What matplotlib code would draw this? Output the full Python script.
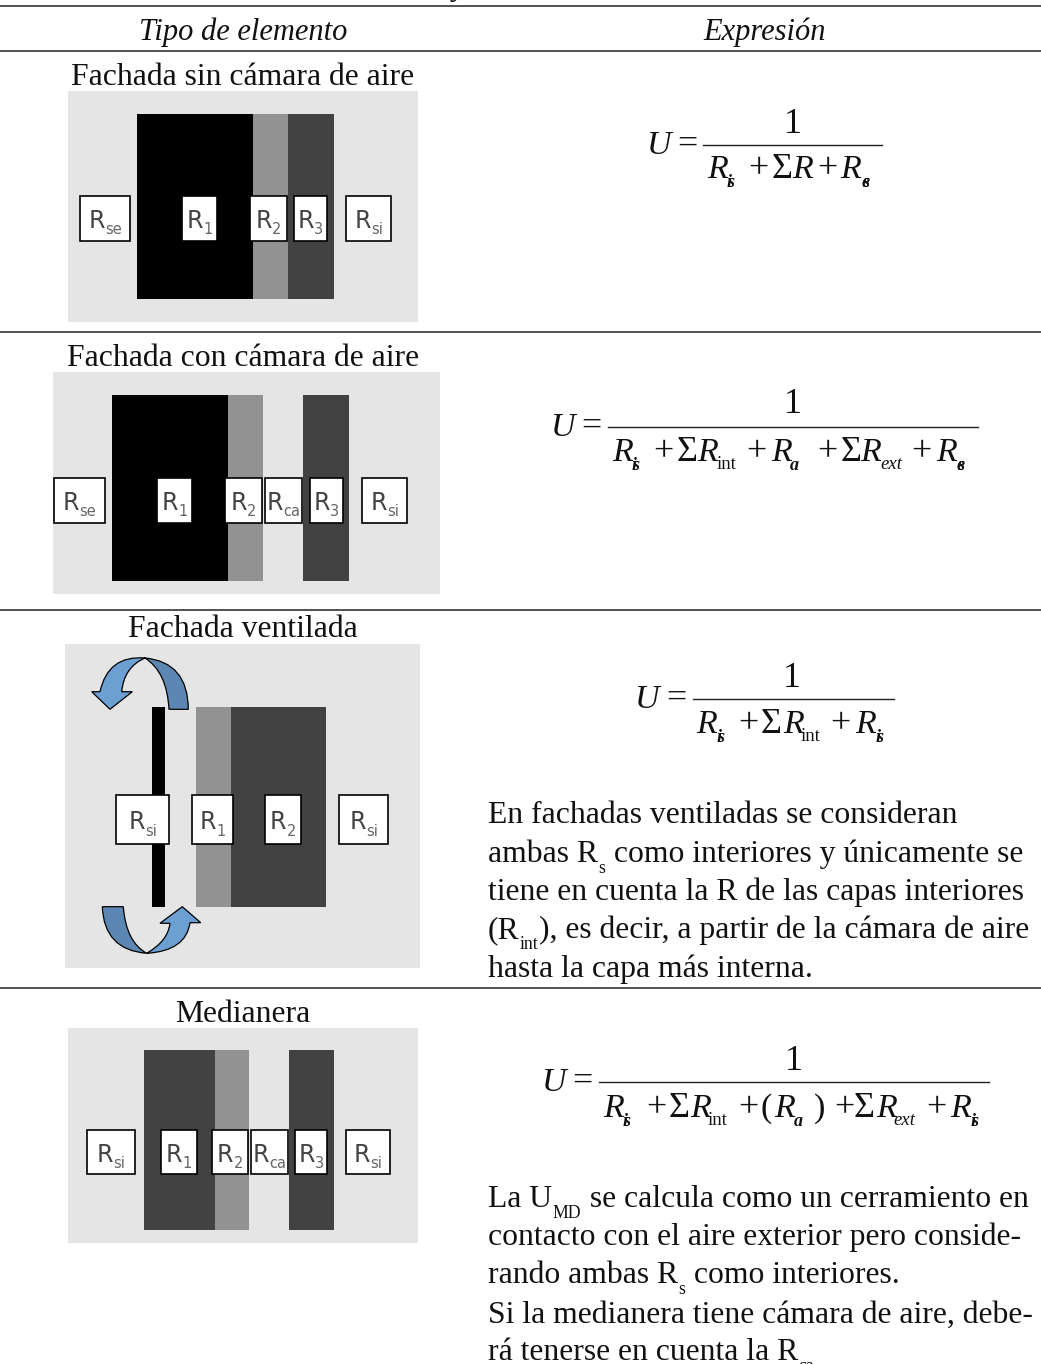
#!/usr/bin/env python3
"""Tabla de transmitancia U por tipo de elemento, dibujada en pixeles."""

import matplotlib

matplotlib.use("Agg")
import matplotlib.pyplot as plt
from matplotlib.patches import PathPatch, Rectangle
from matplotlib.path import Path

SERIF = "Liberation Serif"
BODY_PT = 22.8
HEADER_PT = 22.0
FORMULA_PT = 24.5
SIGN_PT = 26
SUB_PT = 12.8

WHITE_GREY = "#e5e5e5"
BLACK = "#000000"
MID = "#929292"
DARK = "#424242"
ARROW_BACK = "#5b87b2"
ARROW_FRONT = "#6c9fd2"

headers = ["Tipo de elemento", "Expresión"]
titles = [
    "Fachada sin cámara de aire",
    "Fachada con cámara de aire",
    "Fachada ventilada",
    "Medianera",
]
title_baselines = [85, 366, 637, 1022]
rule_rows = [5.5, 50.5, 332, 610, 988]

# paneles: fondo (x0, x1, y0, y1) y capas (x0, x1, color)
panel_frames = [
    (68, 418, 91, 322),
    (53, 440, 372, 594),
    (65, 420, 644, 968),
    (68, 418, 1028, 1243),
]
layer_rows = [(114, 299), (395, 581), (707, 907), (1050, 1230)]
layers = [
    [(137, 253, BLACK), (253, 288, MID), (288, 334, DARK)],
    [(112, 228, BLACK), (228, 263, MID), (303, 349, DARK)],
    [(152, 165, BLACK), (196, 231, MID), (231, 326, DARK)],
    [(144, 215, DARK), (215, 249, MID), (289, 334, DARK)],
]

# etiquetas de cada panel
label_rows = [(195, 242), (477, 524), (794, 845), (1129, 1175)]
box_names = [
    ["se", "1", "2", "3", "si"],
    ["se", "1", "2", "ca", "3", "si"],
    ["si", "1", "2", "si"],
    ["si", "1", "2", "ca", "3", "si"],
]
box_edges = [
    [(79, 131), (181, 218), (249, 288), (293, 328), (345, 392)],
    [(53, 106), (156, 193), (224, 263), (264, 303), (309, 344), (361, 408)],
    [(115, 170), (191, 234), (264, 302), (338, 389)],
    [(86, 136), (160, 198), (211, 249), (250, 289), (294, 328), (345, 391)],
]

# formulas: U, =, raya, 1 y trozos del denominador
formula_x = [
    (647, 677, 703, 882, 793),
    (551, 581, 608, 978, 793),
    (635, 666, 693, 894, 792),
    (542, 572, 599, 989, 793.5),
]
formula_y = [(133, 145, 178), (413, 427, 461), (687, 699, 733), (1070, 1082, 1117)]
denominators = [
    [(707, "R"), (727, "_si"), (748, "+"), (772, "Σ"), (792, "R"), (817, "+"), (840, "R"), (862, "_se")],
    [(612, "R"), (632, "_si"), (653, "+"), (677, "Σ"), (697, "R"), (717, "^int"), (746, "+"),
     (771, "R"), (790, "_a"), (817, "+"), (841, "Σ"), (860, "R"), (880, "_ext"), (911, "+"),
     (936, "R"), (957, "_se")],
    [(696, "R"), (717, "_si"), (738, "+"), (761, "Σ"), (783, "R"), (801, "^int"), (830, "+"),
     (855, "R"), (876, "_si")],
    [(603, "R"), (623, "_si"), (646, "+"), (669, "Σ"), (690, "R"), (707.5, "^int"), (738, "+"),
     (761, "^("), (774, "R"), (793.5, "_a"), (814, "^)"), (834, "+"), (854, "Σ"), (876, "R"),
     (893, "_ext"), (926, "+"), (950, "R"), (971, "_si")],
]

# parrafos: (texto, es_subindice)
ventilada_lines = [
    [("En fachadas ventiladas se consideran", False)],
    [("ambas R", False), ("s", True), (" como interiores y únicamente se", False)],
    [("tiene en cuenta la R de las capas interiores", False)],
    [("(R", False), ("int", True), ("), es decir, a partir de la cámara de aire", False)],
    [("hasta la capa más interna.", False)],
]
ventilada_baselines = [823, 862, 900, 938, 977]
medianera_lines = [
    [("La U", False), ("MD", True), (" se calcula como un cerramiento en", False)],
    [("contacto con el aire exterior pero conside-", False)],
    [("rando ambas R", False), ("s", True), (" como interiores.", False)],
    [("Si la medianera tiene cámara de aire, debe-", False)],
    [("rá tenerse en cuenta la R", False), ("ca", True)],
]
medianera_baselines = [1207, 1245, 1283, 1323, 1360]

# flechas de la fachada ventilada
top_back = [(145, 658), (188, 662), (188.3, 709.3), (169, 709.3), (167, 672), (145, 658)]
top_front = [(145, 658), (108, 655), (100, 691.7), (91.7, 691.7), (110, 709.3), (132.3, 691.7),
             (121.7, 691.7), (124, 667), (145, 658)]
bottom_back = [(102.3, 906.7), (104, 950), (146.7, 953.3), (126, 942), (123.3, 906.7), (102.3, 906.7)]
bottom_front = [(146.7, 953.3), (186, 951), (190, 922.7), (200.7, 922.7), (182.3, 906.7),
                (160, 923.3), (170, 923.3), (168, 941), (146.7, 953.3)]
back_codes = [Path.MOVETO, Path.CURVE3, Path.CURVE3, Path.LINETO, Path.CURVE3, Path.CURVE3]
top_front_codes = [Path.MOVETO, Path.CURVE3, Path.CURVE3, Path.LINETO, Path.LINETO, Path.LINETO,
                   Path.LINETO, Path.CURVE3, Path.CURVE3]
bottom_front_codes = [Path.MOVETO, Path.CURVE3, Path.CURVE3, Path.LINETO, Path.LINETO, Path.LINETO,
                      Path.LINETO, Path.CURVE3, Path.CURVE3]
bottom_back_codes = [Path.MOVETO, Path.CURVE3, Path.CURVE3, Path.CURVE3, Path.CURVE3, Path.LINETO]

fig = plt.figure(figsize=(10.41, 13.64), dpi=100)
ax = fig.add_axes([0, 0, 1, 1])
ax.set_xlim(0, 1041)
ax.set_ylim(1364, 0)
ax.axis("off")
renderer = fig.canvas.get_renderer()


def serif(x, y, text, size=BODY_PT, style="normal", weight="normal", ha="left"):
    return ax.text(x, y, text, family=SERIF, fontsize=size, style=style, weight=weight,
                   ha=ha, va="baseline", color="#111111")


def text_width(text, size):
    probe = ax.text(0, 0, text + "|", family=SERIF, fontsize=size)
    bar = ax.text(0, 0, "|", family=SERIF, fontsize=size)
    width = probe.get_window_extent(renderer).width - bar.get_window_extent(renderer).width
    probe.remove()
    bar.remove()
    return width


def rich_line(x, y, segments):
    for text, is_sub in segments:
        size = SUB_PT if is_sub else BODY_PT
        serif(x, y + (11 if is_sub else 0), text, size=size)
        x += text_width(text, size) + (1 if is_sub else 0)


def draw_box(x0, x1, y0, y1, sub):
    ax.add_patch(Rectangle((x0 + 1, y0 + 1), x1 - x0 - 2, y1 - y0 - 2, facecolor="white",
                           edgecolor="black", linewidth=1.2, zorder=3))
    mid_y = (y0 + y1) / 2
    r_text = ax.text(0, mid_y + 9.5, "R", family="DejaVu Sans", fontsize=17,
                     ha="left", va="baseline", color="#444444", zorder=4)
    sub_text = ax.text(0, mid_y + 16, sub, family="DejaVu Sans", fontsize=10.5,
                       ha="left", va="baseline", color="#666666", zorder=4)
    r_w = r_text.get_window_extent(renderer).width
    sub_w = sub_text.get_window_extent(renderer).width
    start = (x0 + x1) / 2 - (r_w + sub_w) / 2
    r_text.set_x(start)
    sub_text.set_x(start + r_w)


def draw_formula(xs, ys, pieces):
    u_x, eq_x, line_x0, line_x1, one_x = xs
    one_y, line_y, den_y = ys
    mid_y = line_y + 9
    serif(u_x, mid_y, "U", size=FORMULA_PT, style="italic")
    serif(eq_x, mid_y, "=", size=SIGN_PT)
    serif(one_x, one_y, "1", size=SIGN_PT, ha="center")
    ax.plot([line_x0, line_x1], [line_y, line_y], color="#222222", lw=1.0)
    for x, piece in pieces:
        if piece == "R":
            serif(x, den_y, "R", size=FORMULA_PT, style="italic")
        elif piece in ("+", "Σ"):
            serif(x, den_y, piece, size=SIGN_PT)
        elif piece == "^int":
            serif(x, den_y + 8, "int", size=13.5)
        elif piece in ("^(", "^)"):
            serif(x, den_y, piece[1], size=FORMULA_PT)
        elif piece == "_ext":
            serif(x, den_y + 8, "ext", size=13.5, style="italic")
        else:
            # los subindices del original salen superpuestos
            for glyph in piece[1:]:
                serif(x, den_y + 9, glyph, size=13, style="italic", weight="bold")


for y in rule_rows:
    ax.plot([0, 1041], [y, y], color="#333333", lw=1.2, solid_capstyle="butt")

serif(460, -5, "y", style="italic", ha="center")
serif(243, 40, headers[0], size=HEADER_PT, style="italic", ha="center")
serif(765, 40, headers[1], size=HEADER_PT, style="italic", ha="center")

for title, y in zip(titles, title_baselines):
    serif(243, y, title, ha="center")

for frame, row, stack, label_row, names, edges in zip(
    panel_frames, layer_rows, layers, label_rows, box_names, box_edges
):
    x0, x1, y0, y1 = frame
    ax.add_patch(Rectangle((x0, y0), x1 - x0, y1 - y0, facecolor=WHITE_GREY, edgecolor="none"))
    for lx0, lx1, color in stack:
        ax.add_patch(Rectangle((lx0, row[0]), lx1 - lx0, row[1] - row[0], facecolor=color, edgecolor="none"))
    for (bx0, bx1), name in zip(edges, names):
        draw_box(bx0, bx1, label_row[0], label_row[1], name)

for points, codes, color in [
    (top_back, back_codes, ARROW_BACK),
    (top_front, top_front_codes, ARROW_FRONT),
    (bottom_back, bottom_back_codes, ARROW_BACK),
    (bottom_front, bottom_front_codes, ARROW_FRONT),
]:
    ax.add_patch(PathPatch(Path(points, codes), facecolor=color, edgecolor="black", linewidth=0.9, zorder=2))

for xs, ys, pieces in zip(formula_x, formula_y, denominators):
    draw_formula(xs, ys, pieces)

for segments, y in zip(ventilada_lines, ventilada_baselines):
    rich_line(488, y, segments)
for segments, y in zip(medianera_lines, medianera_baselines):
    rich_line(488, y, segments)

fig.savefig("out.png", dpi=100)
